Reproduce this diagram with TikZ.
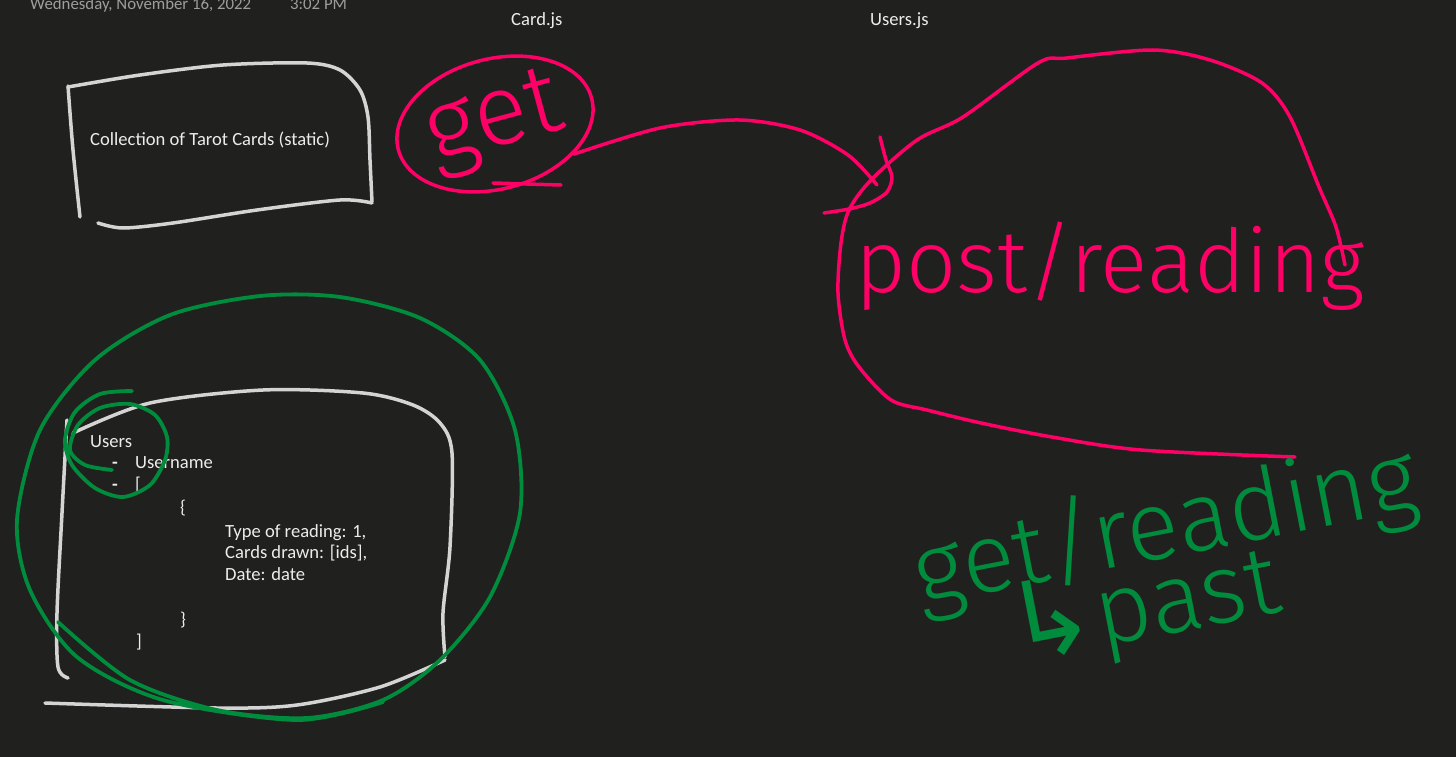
\documentclass[tikz,border=0pt]{standalone}
\usepackage{fontspec}
\setmainfont{Carlito}
\newfontfamily\inkfont{Fira Sans Light}
\newfontfamily\arrowfont{DejaVu Sans}
\usepackage{tikz}
\usetikzlibrary{positioning,shapes.geometric}
\definecolor{cBg}{RGB}{32,32,31}
\definecolor{cGrey}{RGB}{212,212,212}
\definecolor{cPink}{RGB}{255,0,102}
\definecolor{cGreen}{RGB}{0,140,60}
\definecolor{cTyped}{RGB}{236,236,236}
\definecolor{cDate}{RGB}{158,158,158}

\begin{document}
\begin{tikzpicture}[x=1pt, y=-1pt]
        \tikzstyle{every node}=[inner sep=0pt, anchor=base west]
        \tikzstyle{typed}=[text=cTyped, font=\fontsize{18.6}{22}\selectfont]
        \tikzstyle{header}=[text=cDate, font=\fontsize{16.8}{20}\selectfont]
        \tikzstyle{greyink}=[draw=cGrey, line width=3.5pt, line cap=round, line join=round]
        \tikzstyle{pinkink}=[draw=cPink, line width=3.5pt, line cap=round, line join=round]
        \tikzstyle{greenink}=[draw=cGreen, line width=3.8pt, line cap=round, line join=round]
        \tikzstyle{pinkhand}=[text=cPink, font=\inkfont\fontsize{88}{90}\selectfont]
        \tikzstyle{greenhand}=[text=cGreen, font=\inkfont\fontsize{98}{99}\selectfont]

        \fill[cBg] (0,0) rectangle (1456,757);
        \useasboundingbox (0,0) rectangle (1456,757);

        \node[header] (date)    at (30,10)  {Wednesday, November 16, 2022};
        \node[header] (time)    at (290,10) {3:02 PM};
        \node[typed]  (cardjs)  at (511,26) {Card.js};
        \node[typed]  (usersjs) at (870,26) {Users.js};

        \node[typed] (tarot) at (90,146) {Collection of Tarot Cards (static)};
        \draw[greyink] plot[smooth] coordinates {(68,86) (73,150) (80,217)};
        \draw[greyink] plot[smooth] coordinates {(68,87) (140,75) (223,65) (307,63) (340,70) (360,90) (368,117) (370,160) (372,202)};
        \draw[greyink] plot[smooth] coordinates {(372,203) (340,200) (257,210) (173,223) (123,228) (98,223)};

        \node[typed] (users) at (90,447)  {Users};
        \node[typed] (dash1) at (112,468) {\textbf{-}};
        \node[typed] (uname) at (135,468) {Username};
        \node[typed] (dash2) at (112,490) {\textbf{-}};
        \node[typed] (lbrak) at (135,490) {[};
        \node[typed] (lbrace) at (180,513) {\{};
        \node[typed] (rtype) at (225,537) {Type of reading: 1,};
        \node[typed] (rcards) at (225,558) {Cards drawn: [ids],};
        \node[typed] (rdate) at (225,580) {Date: date};
        \node[typed] (rbrace) at (180,625) {\}};
        \node[typed] (rbrak) at (136,647) {]};
        \draw[greyink] plot[smooth] coordinates {(67,420) (62,513) (57,613) (58,667) (68,678)};
        \draw[greyink] plot[smooth] coordinates {(73,433) (150,403) (263,390) (363,393) (413,405) (440,423) (452,453) (450,547) (443,613) (445,657)};
        \draw[greyink] plot[smooth] coordinates {(445,660) (380,687) (297,705) (217,708) (45,703)};

        \draw[greenink] plot[smooth] coordinates {(58,622) (130,680) (217,710) (307,718) (383,700) (440,660) (490,597) (520,513) (515,430) (480,360) (420,318) (340,297) (260,296) (170,315) (95,360) (40,430) (17,520) (30,590) (77,657) (163,700) (297,720) (383,702)};
        \draw[greenink] plot[smooth] coordinates {(132,391) (100,394) (75,412) (65,440) (72,465) (95,488) (123,497) (150,485) (165,460) (167,437) (155,415) (130,404) (100,408) (78,425) (70,450) (85,465) (112,470)};

        \node[pinkhand, draw=cPink, line width=3.5pt, ellipse, anchor=center, minimum width=200pt, minimum height=130pt, rotate=15, font=\inkfont\fontsize{100}{100}\selectfont] (get) at (495,124) {get};
        \draw[pinkink] (493,183) -- (561,185);

        \node[pinkhand] (post) at (855,292) {post/reading};
        \coordinate (hook) at (877,185);
        \draw[pinkink] plot[smooth] coordinates {(get.-36) (660,128) (739,120) (800,130) (848,155) (hook)};
        \draw[pinkink] plot[smooth] coordinates {(880,137) (886,160) (892,177) (887,192) (870,203) (849,209) (824,213)};
        \draw[pinkink] plot[smooth] coordinates {(1295,457) (1141,450) (1052,437) (981,423) (927,410) (891,400) (859,367) (845,340) (838,293) (841,243) (849,210) (871,180) (917,140) (963,117) (1038,63) (1067,58) (1153,50) (1210,60) (1262,83) (1290,117) (1319,187) (1336,227) (1345,265)};

        \node[greenhand, rotate=11, align=left] (getread) at (935,679) {get/reading\\[-24pt]\hspace*{82pt}{\arrowfont\fontsize{80}{99}\selectfont\scalebox{1.3}[1.35]{↳}}past};
\end{tikzpicture}
\end{document}
